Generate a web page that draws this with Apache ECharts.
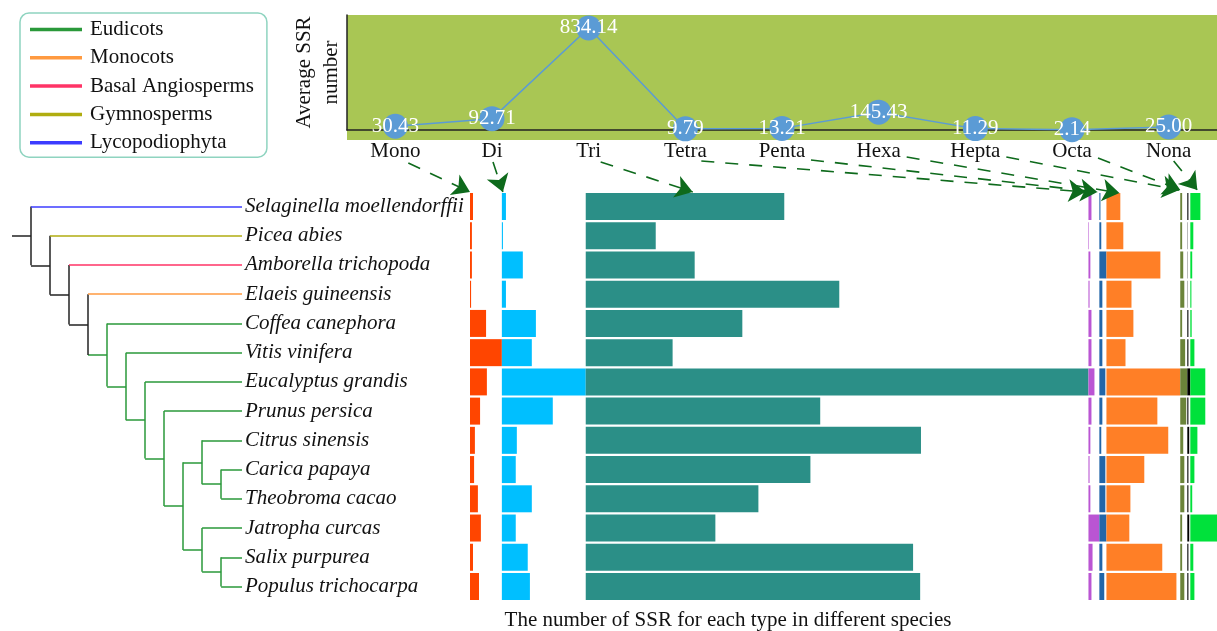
<!DOCTYPE html>
<html>
<head>
<meta charset="utf-8">
<script src="https://cdn.jsdelivr.net/npm/echarts@6/dist/echarts.min.js"></script>
<style>
  html, body { margin: 0; padding: 0; background: #fff; }
  #chart { width: 1217px; height: 631px; }
</style>
</head>
<body>
<div id="chart"></div>
<script>
// ---- data ----
const species = [
  'Selaginella moellendorffii', 'Picea abies', 'Amborella trichopoda', 'Elaeis guineensis',
  'Coffea canephora', 'Vitis vinifera', 'Eucalyptus grandis', 'Prunus persica',
  'Citrus sinensis', 'Carica papaya', 'Theobroma cacao', 'Jatropha curcas',
  'Salix purpurea', 'Populus trichocarpa'
];
const speciesClade = [
  'Lycopodiophyta', 'Gymnosperms', 'Basal Angiosperms', 'Monocots',
  'Eudicots', 'Eudicots', 'Eudicots', 'Eudicots', 'Eudicots', 'Eudicots',
  'Eudicots', 'Eudicots', 'Eudicots', 'Eudicots'
];
const clades = ['Eudicots', 'Monocots', 'Basal Angiosperms', 'Gymnosperms', 'Lycopodiophyta'];
// species tree as nested pairs
const phylogeny = ['Selaginella moellendorffii', ['Picea abies', ['Amborella trichopoda',
  ['Elaeis guineensis', ['Coffea canephora', ['Vitis vinifera', ['Eucalyptus grandis',
  ['Prunus persica', [['Citrus sinensis', ['Carica papaya', 'Theobroma cacao']],
  ['Jatropha curcas', ['Salix purpurea', 'Populus trichocarpa']]]]]]]]]]];

const repeatTypes = ['Mono', 'Di', 'Tri', 'Tetra', 'Penta', 'Hexa', 'Hepta', 'Octa', 'Nona'];
const averageSSR = [30.43, 92.71, 834.14, 9.79, 13.21, 145.43, 11.29, 2.14, 25.00];

// SSR counts per species (same order as species)
const monoSSR  = [11, 7, 7, 4, 59, 117, 62, 37, 18, 15, 29, 40, 11, 33];
const diSSR    = [15, 4, 77, 15, 125, 110, 308, 187, 55, 51, 110, 51, 95, 103];
const triSSR   = [729, 257, 400, 931, 575, 319, 1846, 861, 1231, 825, 634, 476, 1202, 1228];
const tetraSSR = [11, 2, 7, 4, 11, 11, 22, 11, 7, 4, 7, 40, 15, 11];
const pentaSSR = [4, 7, 26, 11, 11, 11, 22, 11, 7, 22, 22, 26, 11, 18];
const hexaSSR  = [51, 62, 198, 92, 99, 70, 271, 187, 227, 139, 88, 84, 205, 257];
const heptaSSR = [7, 7, 11, 15, 7, 18, 26, 22, 11, 15, 15, 7, 7, 15];
const octaSSR  = [4, 1, 1, 1, 4, 4, 11, 4, 7, 4, 4, 7, 4, 4];
const nonaSSR  = [37, 11, 7, 4, 5, 15, 55, 55, 26, 15, 7, 98, 11, 15];

// ---- styles ----
const SERIF = '"Liberation Serif", "Times New Roman", serif';
const typeColors = ['#ff4500', '#00bfff', '#2b8f87', '#ba55d3', '#2266a8', '#ff7f26', '#6b843a', '#000000', '#00e13b'];
const cladeColors = {
  'Eudicots': '#2a993a', 'Monocots': '#ff9a40', 'Basal Angiosperms': '#ff3366',
  'Gymnosperms': '#b0ad10', 'Lycopodiophyta': '#3c3cff'
};
const TREE_BLACK = '#222';

// ---- tree layout (cladogram, leaves aligned on the right) ----
const LEAF_X = 11.1;
const treeSegments = {};           // colour key -> list of segments
function addSeg(key, a, b) { (treeSegments[key] = treeSegments[key] || []).push({ coords: [a, b] }); }
function layout(node, depth) {
  if (typeof node === 'string') {
    const i = species.indexOf(node);
    return { x: LEAF_X, y: i, clade: speciesClade[i] };
  }
  const kids = node.map(n => layout(n, depth + 1));
  const y = (kids[0].y + kids[kids.length - 1].y) / 2;
  const same = kids.every(k => k.clade && k.clade === kids[0].clade) ? kids[0].clade : null;
  addSeg(same || 'black', [depth, kids[0].y], [depth, kids[kids.length - 1].y]);
  kids.forEach(k => addSeg(k.clade || 'black', [depth, k.y], [k.x, k.y]));
  return { x: depth, y, clade: same };
}
const rootNode = layout(phylogeny, 0);
addSeg('black', [-1, rootNode.y], [0, rootNode.y]);

// ---- stacked column layout: each repeat type starts where the previous type's widest bar ends ----
const typeValues = [monoSSR, diSSR, triSSR, tetraSSR, pentaSSR, hexaSSR, heptaSSR, octaSSR, nonaSSR];
const typeMax = typeValues.map(v => Math.max(...v));
const typeStart = [];
typeMax.reduce((acc, m, i) => { typeStart[i] = acc; return acc + m; }, 0);
const totalWidth = typeMax.reduce((a, b) => a + b, 0);

const barSeries = [];
typeValues.forEach((vals, t) => {
  barSeries.push({
    id: 'bar-' + t, name: repeatTypes[t], type: 'bar', stack: 'ssr', xAxisIndex: 0, yAxisIndex: 0,
    barWidth: 27, data: vals, itemStyle: { color: typeColors[t] }, silent: true
  });
  if (t < typeValues.length - 1) {
    barSeries.push({
      id: 'pad-' + t, name: repeatTypes[t] + '-pad', type: 'bar', stack: 'ssr', xAxisIndex: 0, yAxisIndex: 0,
      barWidth: 27, data: vals.map(v => typeMax[t] - v),
      itemStyle: { color: 'rgba(0,0,0,0)' }, silent: true
    });
  }
});

const treeSeries = Object.keys(treeSegments).map(key => ({
  id: 'tree-' + key,
  name: key === 'black' ? 'backbone' : key,
  type: 'lines', coordinateSystem: 'cartesian2d', xAxisIndex: 1, yAxisIndex: 1,
  polyline: false, silent: true, symbol: 'none',
  lineStyle: { color: key === 'black' ? TREE_BLACK : cladeColors[key], width: 1.5, opacity: 1, curveness: 0 },
  itemStyle: { color: key === 'black' ? TREE_BLACK : cladeColors[key] },
  data: treeSegments[key], z: 3
}));

const BAR_TOP = 191.9, BAR_H = 409.2;
const chart = echarts.init(document.getElementById('chart'), null, { renderer: 'canvas' });

chart.setOption({
  animation: false,
  backgroundColor: '#fff',
  legend: {
    orient: 'vertical', left: 20, top: 13,
    data: clades.map(c => ({ name: c, itemStyle: { color: cladeColors[c] } })),
    icon: 'rect', itemWidth: 50, itemHeight: 1.5, itemGap: 7.3,
    padding: [6, 13, 4, 10],
    borderColor: '#8fd4c0', borderWidth: 1.5, borderRadius: 9,
    selectedMode: false,
    textStyle: { fontFamily: SERIF, fontSize: 21, color: '#111', padding: [0, 0, 0, 4] }
  },
  grid: [
    { left: 470, top: BAR_TOP, width: 747, height: BAR_H },          // SSR bars
    { left: 12, top: BAR_TOP, width: 230, height: BAR_H },           // species tree
    { left: 347, top: 15, width: 874, height: 115, show: true,
      backgroundColor: '#a9c654', borderWidth: 0 },                    // average SSR
    { left: 0, top: 0, width: 1217, height: 631 }                      // pixel plane for arrows
  ],
  xAxis: [
    { gridIndex: 0, type: 'value', min: 0, max: totalWidth, show: false },
    { gridIndex: 1, type: 'value', min: -1, max: LEAF_X, show: false },
    { gridIndex: 2, type: 'category', data: repeatTypes, boundaryGap: true,
      axisLine: { lineStyle: { color: '#222', width: 1.5 } }, axisTick: { show: false },
      axisLabel: { fontFamily: SERIF, fontSize: 21, color: '#111', margin: 11 } },
    { gridIndex: 3, type: 'value', min: 0, max: 1217, show: false }
  ],
  yAxis: [
    { gridIndex: 0, type: 'category', data: species, inverse: true,
      axisLine: { show: false }, axisTick: { show: false },
      axisLabel: { align: 'left', margin: 225, fontFamily: SERIF, fontStyle: 'italic', fontSize: 21, color: '#111' } },
    { gridIndex: 1, type: 'value', min: -0.5, max: species.length - 0.5, inverse: true, show: false },
    { gridIndex: 2, type: 'value', min: 0, max: 940,
      name: 'Average SSR\nnumber', nameLocation: 'middle', nameGap: 2, nameRotate: 90,
      nameTextStyle: { fontFamily: SERIF, fontSize: 21, color: '#111', lineHeight: 27 },
      axisLine: { show: true, lineStyle: { color: '#222', width: 1.5 } },
      axisTick: { show: false }, axisLabel: { show: false }, splitLine: { show: false } },
    { gridIndex: 3, type: 'value', min: 0, max: 631, inverse: true, show: false }
  ],
  graphic: [
    { type: 'rect', z: -10, shape: { x: 347, y: 130, width: 870, height: 10 }, style: { fill: '#a9c654' } },
    { type: 'text', x: 728, y: 620, style: {
        text: 'The number of SSR for each type in different species',
        font: '21px ' + SERIF, fill: '#111', align: 'center', verticalAlign: 'middle' } }
  ],
  series: [
    ...barSeries,
    ...treeSeries,
    {
      id: 'avg', name: 'Average SSR', type: 'line', xAxisIndex: 2, yAxisIndex: 2, data: averageSSR,
      clip: false, symbol: 'circle', symbolSize: 25, silent: true,
      lineStyle: { color: '#5b9bd5', width: 1.5 },
      itemStyle: { color: '#5b9bd5' },
      label: { show: true, position: 'inside', color: '#fff', fontFamily: SERIF, fontSize: 21,
               formatter: p => p.value.toFixed(2) },
      z: 5
    },
    {
      id: 'arrows', name: 'arrows', type: 'lines', coordinateSystem: 'cartesian2d', xAxisIndex: 3, yAxisIndex: 3,
      silent: true, symbol: ['none', 'arrow'], symbolSize: [12, 17],
      lineStyle: { color: '#0e6a1c', width: 1.6, type: [13, 11], opacity: 1 },
      itemStyle: { color: '#0e6a1c' },
      data: [], z: 10
    }
  ]
});

// dashed arrows from each repeat-type label to the start of its column of bars
const arrowStartDx = [13, 1, 12, 16, 29, 28, 31, 26, 5];
const arrowStartY  = [163, 162, 162, 161, 160, 157, 157, 158, 161];
const arrowEndDx   = [0, 1, 107, -3, -2, 13, -1, -7, 7];
const arrowEndY    = [192, 192, 192, 192, 192, 193, 190, 190, 190];
const arrowData = repeatTypes.map((t, i) => {
  const sx = chart.convertToPixel({ xAxisIndex: 2 }, t) + arrowStartDx[i];
  const ex = chart.convertToPixel({ xAxisIndex: 0 }, typeStart[i]) + arrowEndDx[i];
  return { coords: [[sx, arrowStartY[i]], [ex, arrowEndY[i]]] };
});
chart.setOption({ series: [{ id: 'arrows', data: arrowData }] });
</script>
</body>
</html>
